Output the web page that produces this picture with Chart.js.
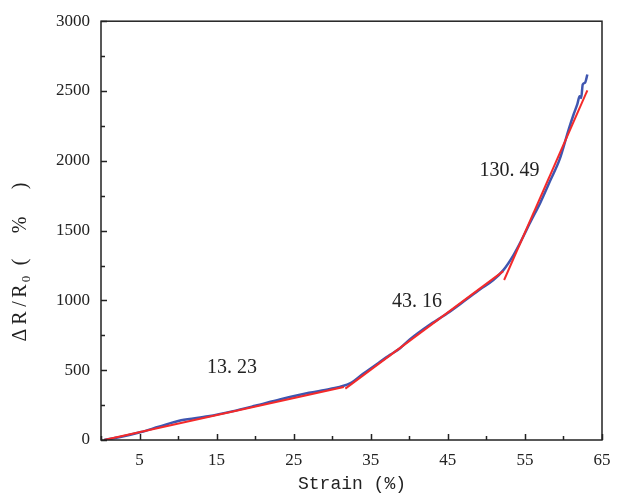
<!DOCTYPE html>
<html>
<head>
<meta charset="utf-8">
<script src="https://cdn.jsdelivr.net/npm/chart.js@4.4.0/dist/chart.umd.min.js"></script>
<style>
  html, body { margin: 0; padding: 0; background: #fff; }
  #wrap { width: 638px; height: 494px; }
</style>
</head>
<body>
<div id="wrap"><canvas id="strainChart" width="638" height="494"></canvas></div>
<script>
// measured curve (strain %, dR/R0 %)
var strain = [0.4, 2.5, 5.2, 7.5, 10.4, 13.9, 17, 20, 23.2, 27, 29.7, 32.3, 34.0, 36.2, 37.5, 38.8, 40.1, 42.5, 44.9, 47, 49.2, 50.9, 52.2, 53.5, 54.4, 55.7, 57, 58.3, 59.5, 60.7, 61.3, 61.8, 62.1, 62.3, 62.5, 62.8, 63.1];
var response = [0, 21, 57, 95, 141, 170, 205, 245, 290, 338, 365, 405, 474, 560, 610, 658, 722, 820, 906, 990, 1080, 1146, 1217, 1323, 1415, 1560, 1700, 1860, 2010, 2229, 2330, 2406, 2462, 2450, 2547, 2560, 2618];

// linear fits, [x0, x1] and [y0, y1]
var fit1X = [0.4, 31.5], fit1Y = [0, 380];
var fit2X = [31.7, 52.2], fit2Y = [368, 1210];
var fit3X = [52.3, 63.1], fit3Y = [1146, 2505];
var slopeLabels = ["13. 23", "43. 16", "130. 49"];
var slopeAt = [[17, 520], [41, 990], [53, 1930]];

var xTicks = [5, 15, 25, 35, 45, 55, 65];
var yTicks = [0, 500, 1000, 1500, 2000, 2500, 3000];

function pts(xs, ys) {
    return xs.map(function (x, i) { return {x: x, y: ys[i]}; });
}

var frame = {
    id: 'frame',
    afterDraw: function (chart) {
        var c = chart.ctx, a = chart.chartArea;
        var xs = chart.scales.x, ys = chart.scales.y;
        c.save();
        c.strokeStyle = '#222';
        c.lineWidth = 1.5;
        c.strokeRect(a.left, a.top, a.right - a.left, a.bottom - a.top);
        // inward ticks
        c.beginPath();
        for (var v = 0; v <= 65; v += 5) {
            var px = Math.round(xs.getPixelForValue(v)) + 0.5;
            var len = (v % 10 === 5) ? 6 : 4;
            c.moveTo(px, a.bottom);
            c.lineTo(px, a.bottom - len);
        }
        for (var w = 0; w <= 3000; w += 250) {
            var py = Math.round(ys.getPixelForValue(w)) + 0.5;
            var l2 = (w % 500 === 0) ? 6 : 4;
            c.moveTo(a.left, py);
            c.lineTo(a.left + l2, py);
        }
        c.stroke();

        // slope labels
        c.fillStyle = '#222';
        c.font = '20px "Liberation Serif"';
        c.textAlign = 'center';
        c.textBaseline = 'middle';
        slopeLabels.forEach(function (t, i) {
            c.fillText(t, xs.getPixelForValue(slopeAt[i][0]), ys.getPixelForValue(slopeAt[i][1]));
        });

        // axis titles
        c.font = '18px "Liberation Mono"';
        c.fillText('Strain (%)', 352, 484);

        // y title, spaced like the full-width original: ΔR/R0（%）
        c.translate(21, 258);
        c.rotate(-Math.PI / 2);
        var parts = [['\u0394', -77, 0, 20], ['R', -60, 0, 20], ['/', -46, 0, 20], ['R', -33, 0, 20],
                     ['0', -21, 6, 13], ['(', -4, 0, 20], ['%', 33, 0, 20], [')', 72, 0, 20]];
        parts.forEach(function (p) {
            c.font = p[3] + 'px "Liberation Serif"';
            c.fillText(p[0], p[1], p[2]);
        });
        c.restore();
    }
};

var plain = function (v) { return String(v); };

var ctx = document.getElementById('strainChart').getContext('2d');
new Chart(ctx, {
    type: 'scatter',
    data: {
        datasets: [
            {data: pts(fit1X, fit1Y), showLine: true, borderColor: '#f42a2a', borderWidth: 2, pointRadius: 0, order: 1},
            {data: pts(fit2X, fit2Y), showLine: true, borderColor: '#f42a2a', borderWidth: 2, pointRadius: 0, order: 1},
            {data: pts(fit3X, fit3Y), showLine: true, borderColor: '#f42a2a', borderWidth: 2, pointRadius: 0, order: 1},
            {data: pts(strain, response), showLine: true, borderColor: '#3f56b0', borderWidth: 2.5, pointRadius: 0, cubicInterpolationMode: 'monotone', order: 2}
        ]
    },
    options: {
        responsive: false,
        animation: false,
        layout: {padding: {left: 0, top: 16, right: 36, bottom: 0}},
        plugins: {legend: {display: false}, tooltip: {enabled: false}},
        scales: {
            x: {
                type: 'linear', min: 0, max: 65,
                afterBuildTicks: function (s) { s.ticks = xTicks.map(function (v) { return {value: v}; }); },
                afterFit: function (s) { s.height = 54; },
                grid: {display: false, drawTicks: false},
                border: {display: false},
                ticks: {padding: 10, color: '#222', callback: plain, font: {family: 'Liberation Serif', size: 17}, maxRotation: 0}
            },
            y: {
                type: 'linear', min: 0, max: 3000,
                afterBuildTicks: function (s) { s.ticks = yTicks.map(function (v) { return {value: v}; }); },
                afterFit: function (s) { s.width = 101; },
                grid: {display: false, drawTicks: false},
                border: {display: false},
                ticks: {padding: 11, color: '#222', callback: plain, font: {family: 'Liberation Serif', size: 17}}
            }
        }
    },
    plugins: [frame]
});
</script>
</body>
</html>
